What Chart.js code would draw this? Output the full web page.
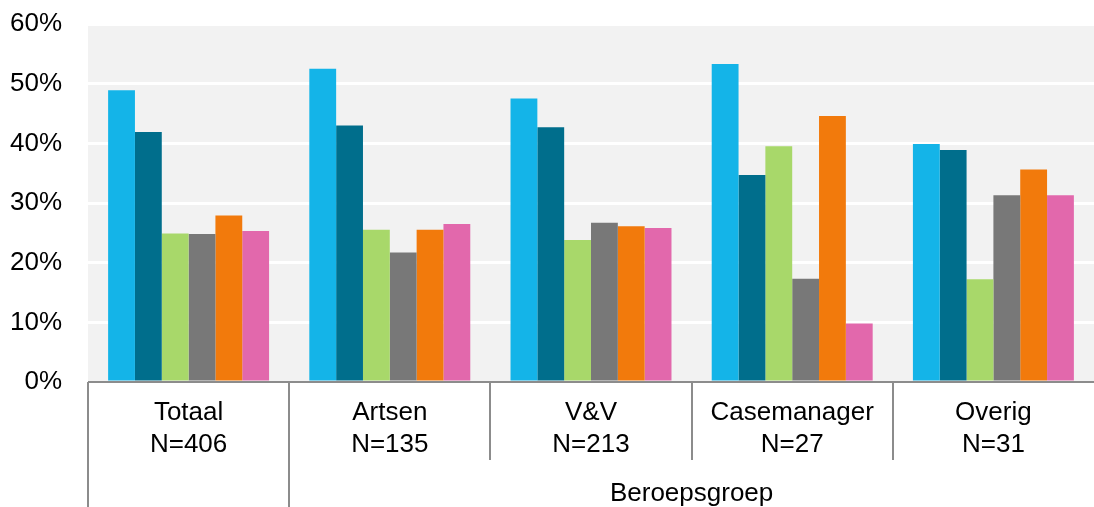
<!DOCTYPE html>
<html>
<head>
<meta charset="utf-8">
<script src="https://cdn.jsdelivr.net/npm/chart.js@4"></script>
<style>
  body { margin: 0; background: #fff; }
  #wrap { width: 1094px; height: 507px; position: relative; }
</style>
</head>
<body>
<div id="wrap"><canvas id="myChart"></canvas></div>
<script>
const ctx = document.getElementById("myChart");

// data (percent)
const categories = [
  ["Totaal", "N=406"],
  ["Artsen", "N=135"],
  ["V&V", "N=213"],
  ["Casemanager", "N=27"],
  ["Overig", "N=31"],
];
const groupLabel = "Beroepsgroep";
const yTicks = [0, 10, 20, 30, 40, 50, 60];

const serie1 = [48.9, 52.5, 47.5, 53.3, 39.9];
const serie2 = [41.9, 43.0, 42.7, 34.7, 38.9];
const serie3 = [24.9, 25.5, 23.8, 39.5, 17.2];
const serie4 = [24.8, 21.7, 26.7, 17.3, 31.3];
const serie5 = [27.9, 25.5, 26.1, 44.6, 35.6];
const serie6 = [25.3, 26.5, 25.8, 9.8, 31.3];

const colors = ["#14b4e8", "#006e8c", "#a8d86a", "#787878", "#f27a0c", "#e268ac"];
const series = [serie1, serie2, serie3, serie4, serie5, serie6];

const FONT = "'Liberation Sans', Arial, sans-serif";
const LINE = "#8c8c8c";

// gray plot background + lines/labels under the axis
const decor = {
  id: "decor",
  beforeDraw(chart) {
    const a = chart.chartArea;
    const c = chart.ctx;
    c.save();
    c.fillStyle = "#f2f2f2";
    c.fillRect(a.left, a.top, a.right - a.left, a.bottom - a.top);
    c.restore();
  },
  afterDraw(chart) {
    const a = chart.chartArea;
    const c = chart.ctx;
    const x = chart.scales.x;
    const n = categories.length;
    const w = (x.getPixelForValue(n - 1) - x.getPixelForValue(0)) / (n - 1);
    c.save();
    c.strokeStyle = LINE;
    c.lineWidth = 2;
    c.beginPath();
    c.moveTo(a.left, a.bottom);
    c.lineTo(a.right, a.bottom);
    c.stroke();
    for (let i = 0; i < n; i++) {
      const bx = Math.round(x.getPixelForValue(i) - w / 2);
      const end = i < 2 ? chart.height : a.bottom + 78;
      c.beginPath();
      c.moveTo(bx, a.bottom);
      c.lineTo(bx, end);
      c.stroke();
    }
    const gx = (x.getPixelForValue(1) - w / 2 + a.right) / 2;
    c.fillStyle = "#000";
    c.font = "26px " + FONT;
    c.textAlign = "center";
    c.textBaseline = "middle";
    c.fillText(groupLabel, gx, a.bottom + 112);
    c.restore();
  },
};

const myChart = new Chart(ctx, {
  type: "bar",
  data: {
    labels: categories,
    datasets: series.map((d, i) => ({
      label: "serie " + (i + 1),
      data: d,
      backgroundColor: colors[i],
      borderWidth: 0,
      categoryPercentage: 0.8,
      barPercentage: 1.0,
    })),
  },
  options: {
    responsive: true,
    maintainAspectRatio: false,
    animation: false,
    layout: { padding: { top: 24, right: 0, left: 0, bottom: 0 } },
    plugins: {
      legend: { display: false },
      tooltip: { enabled: false },
    },
    scales: {
      x: {
        grid: { display: false, drawTicks: false },
        border: { display: false },
        ticks: {
          color: "#000",
          font: { family: FONT, size: 26, lineHeight: 1.22 },
          padding: 15,
          maxRotation: 0,
          autoSkip: false,
        },
        afterFit(scale) { scale.height = 125; },
      },
      y: {
        min: 0,
        max: 60,
        afterBuildTicks(scale) { scale.ticks = yTicks.map(v => ({ value: v })); },
        grid: { color: "#ffffff", lineWidth: 3, drawTicks: false },
        border: { display: false },
        ticks: {
          color: "#000",
          font: { family: FONT, size: 26 },
          padding: 26,
          callback: (v) => v + "%",
        },
        afterFit(scale) {
          scale.width = 88;
          scale.paddingTop = 0;
          scale.paddingBottom = 0;
        },
      },
    },
  },
  plugins: [decor],
});
</script>
</body>
</html>
